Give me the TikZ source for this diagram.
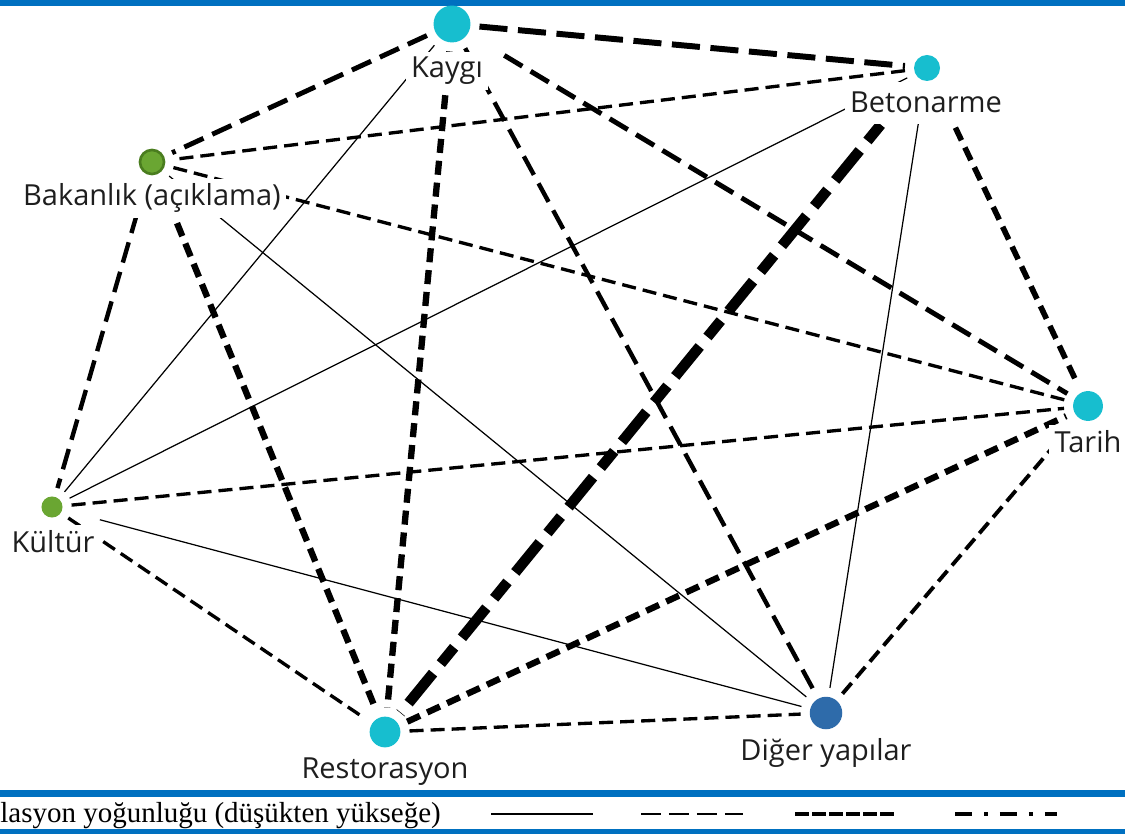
\documentclass[tikz,border=0pt]{standalone}
\usepackage{fontspec}
\setmainfont{Open Sans}
\newfontfamily\legendfont{Liberation Serif}
\usetikzlibrary{backgrounds}

\definecolor{bandblue}{HTML}{0070C0}
\definecolor{termcyan}{HTML}{17BECF}
\definecolor{termblue}{HTML}{2E6BAA}
\definecolor{termgreen}{HTML}{6AA632}
\definecolor{termdarkgreen}{HTML}{4A7D1F}
\definecolor{lbltext}{HTML}{1E1E1E}

\begin{document}
\begin{tikzpicture}[x=0.02cm,y=-0.02cm,
    term/.style={circle,inner sep=0pt,fill=termcyan},
    lbl/.style={fill=white,inner sep=3pt,anchor=base,text=lbltext,font=\fontsize{16.5}{19}\selectfont},
    link/.style={shorten <=5pt,shorten >=5pt},
    corrlow/.style={link,line width=0.7pt},
    corrmid/.style={link,line width=1.9pt,dash pattern=on 8pt off 4pt},
    corrhigh/.style={link,line width=2.8pt,dash pattern=on 12pt off 5.5pt},
    corrdense/.style={link,line width=3.6pt,dash pattern=on 8pt off 4.5pt},
    corrtop/.style={link,line width=6pt,dash pattern=on 22pt off 7pt on 12pt off 7pt}]
  \useasboundingbox (0,0) rectangle (1125,834);
  % blue bands
  \fill[bandblue] (0,0) rectangle (1125,6);
  \fill[bandblue] (0,790) rectangle (1125,797);
  \fill[bandblue] (0,829) rectangle (1125,834);

  % terms
  \node[term,minimum size=21pt] (kaygi) at (452,24) {};
  \node[term,minimum size=14.8pt] (beton) at (927,68) {};
  \node[term,minimum size=13.7pt,fill=termgreen,draw=termdarkgreen,line width=1.5pt] (bakan) at (152,162) {};
  \node[term,minimum size=12pt,fill=termgreen] (kultur) at (52,507) {};
  \node[term,minimum size=17.5pt] (resto) at (385,732) {};
  \node[term,minimum size=18.5pt,fill=termblue] (diger) at (826,713) {};
  \node[term,minimum size=17pt] (tarih) at (1088,406) {};

  % labels
  \node[lbl] (kaygiL) at (447,78) {Kaygı};
  \node[lbl,inner ysep=6pt] (betonL) at (926,113) {Betonarme};
  \node[lbl] (bakanL) at (152,206) {Bakanlık (açıklama)};
  \node[lbl] (kulturL) at (53,552) {Kültür};
  \node[lbl] (restoL) at (385,778) {Restorasyon};
  \node[lbl] (digerL) at (826,760) {Diğer yapılar};
  \node[lbl] (tarihL) at (1088,452) {Tarih};

  % correlations
  \begin{scope}[on background layer]
    \draw[corrhigh,line width=3.4pt,dash pattern=on 16pt off 6pt] (kaygi) -- (beton);
    \draw[corrhigh] (kaygi) -- (bakan);
    \draw[corrlow] (kaygi) -- (kultur);
    \draw[corrdense] (kaygi) -- (resto);
    \draw[corrhigh,line width=2.5pt] (kaygi) -- (diger);
    \draw[corrhigh,shorten <=24pt] (kaygi) -- (tarih);

    \draw[corrmid] (beton) -- (bakan);
    \draw[corrlow] (beton) -- (kultur);
    \draw[corrtop] (beton) -- (resto);
    \draw[corrlow] (beton) -- (diger);
    \draw[corrdense,line width=3.2pt] (beton) -- (tarih);

    \draw[corrhigh,line width=2.5pt] (bakan) -- (kultur);
    \draw[corrdense] (bakan) -- (resto);
    \draw[corrlow] (bakan) -- (diger);
    \draw[corrmid] (bakan) -- (tarih);

    \draw[corrmid] (kultur) -- (tarih);
    \draw[corrlow,shorten <=22pt] (kultur) -- (diger);
    \draw[corrmid] (kultur) -- (resto);

    \draw[corrdense] (resto) -- (tarih);
    \draw[corrmid] (resto) -- (diger);

    \draw[corrmid,line width=2.2pt] (diger) -- (tarih);
  \end{scope}

  % legend
  \node[anchor=base west,inner sep=0pt,font=\legendfont\fontsize{16.5}{19}\selectfont] (legend) at (0,822) {lasyon yoğunluğu (düşükten yükseğe)};
  \draw[line width=0.9pt] (491,814) -- (593,814);
  \draw[line width=1.4pt,dash pattern=on 11.4pt off 4.5pt] (641,814) -- (743,814);
  \draw[line width=1.9pt,dash pattern=on 8pt off 1.7pt] (795,814) -- (897,814);
  \draw[line width=1.9pt,dash pattern=on 9.7pt off 6.8pt on 2.3pt off 6.8pt] (955,814) -- (1057,814);
\end{tikzpicture}
\end{document}
